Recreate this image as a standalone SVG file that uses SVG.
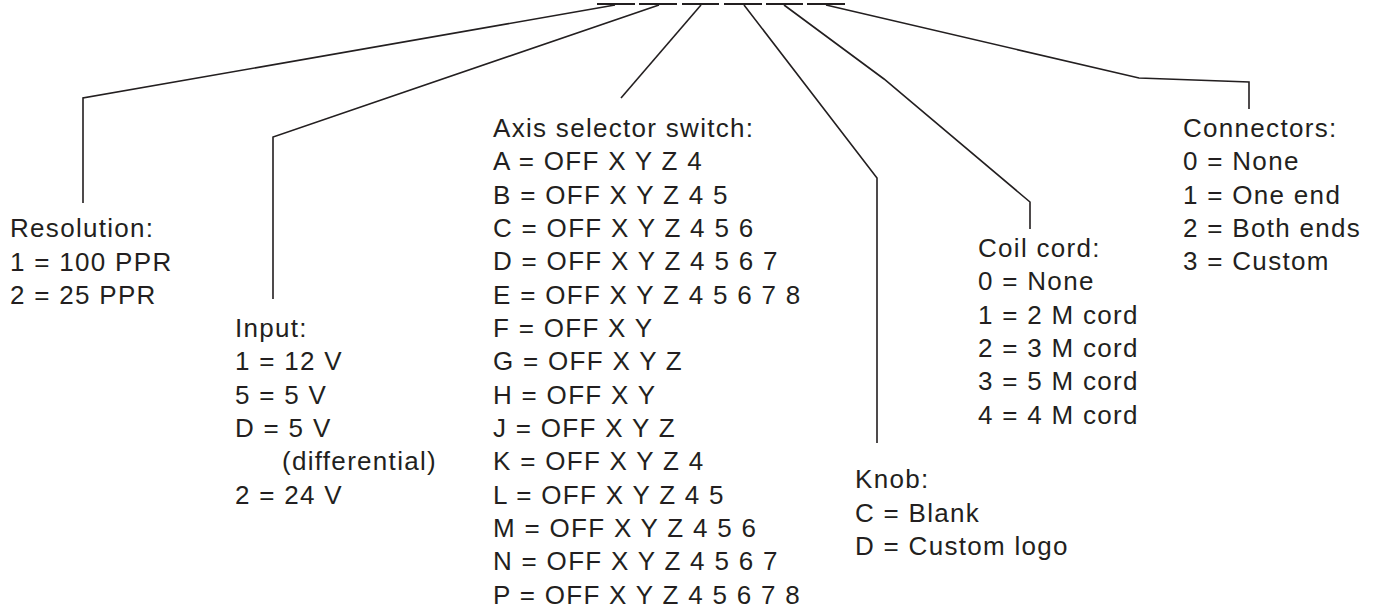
<svg xmlns="http://www.w3.org/2000/svg" width="1373" height="607" viewBox="0 0 1373 607">
<style>
  text { font-family: "Liberation Sans", Arial, sans-serif; font-size: 26px; letter-spacing: 1.3px; fill: #231f20; }
  .ln { fill: none; stroke: #231f20; stroke-width: 1.6; stroke-linejoin: miter; }
  .dash { stroke: #231f20; stroke-width: 2.2; }
</style>
<rect width="1373" height="607" fill="#ffffff"/>
<g id="code-slots">
  <line class="dash" x1="597" y1="4" x2="635" y2="4"/>
  <line class="dash" x1="639" y1="4" x2="677" y2="4"/>
  <line class="dash" x1="682" y1="4" x2="719" y2="4"/>
  <line class="dash" x1="724" y1="4" x2="762" y2="4"/>
  <line class="dash" x1="766" y1="4" x2="803" y2="4"/>
  <line class="dash" x1="807" y1="4" x2="845" y2="4"/>
</g>
<g id="connectors">
  <polyline class="ln" points="615,5 83,98 83,203"/>
  <polyline class="ln" points="659,5 273,137 273,299"/>
  <polyline class="ln" points="701,5 621,98"/>
  <polyline class="ln" points="744,5 877,178 877,443"/>
  <polyline class="ln" points="784,5 884,79 1030,202 1030,229"/>
  <polyline class="ln" points="826,5 1139,78 1249,82 1249,109"/>
</g>
<g id="resolution">
  <text x="10" y="237">Resolution:</text>
  <text x="10" y="270.5">1 = 100 PPR</text>
  <text x="10" y="304">2 = 25 PPR</text>
</g>
<g id="input">
  <text x="235" y="337">Input:</text>
  <text x="235" y="370.3">1 = 12 V</text>
  <text x="235" y="403.6">5 = 5 V</text>
  <text x="235" y="437">D = 5 V</text>
  <text x="282" y="470.3">(differential)</text>
  <text x="235" y="503.6">2 = 24 V</text>
</g>
<g id="axis-selector">
  <text x="493" y="137">Axis selector switch:</text>
  <text x="493" y="170.3">A = OFF X Y Z 4</text>
  <text x="493" y="203.7">B = OFF X Y Z 4 5</text>
  <text x="493" y="237">C = OFF X Y Z 4 5 6</text>
  <text x="493" y="270.3">D = OFF X Y Z 4 5 6 7</text>
  <text x="493" y="303.7">E = OFF X Y Z 4 5 6 7 8</text>
  <text x="493" y="337">F = OFF X Y</text>
  <text x="493" y="370.3">G = OFF X Y Z</text>
  <text x="493" y="403.7">H = OFF X Y</text>
  <text x="493" y="437">J = OFF X Y Z</text>
  <text x="493" y="470.3">K = OFF X Y Z 4</text>
  <text x="493" y="503.7">L = OFF X Y Z 4 5</text>
  <text x="493" y="537">M = OFF X Y Z 4 5 6</text>
  <text x="493" y="570.3">N = OFF X Y Z 4 5 6 7</text>
  <text x="493" y="603.7">P = OFF X Y Z 4 5 6 7 8</text>
</g>
<g id="knob">
  <text x="855" y="488">Knob:</text>
  <text x="855" y="521.5">C = Blank</text>
  <text x="855" y="555">D = Custom logo</text>
</g>
<g id="coil-cord">
  <text x="978" y="257">Coil cord:</text>
  <text x="978" y="290.3">0 = None</text>
  <text x="978" y="323.7">1 = 2 M cord</text>
  <text x="978" y="357">2 = 3 M cord</text>
  <text x="978" y="390.3">3 = 5 M cord</text>
  <text x="978" y="423.7">4 = 4 M cord</text>
</g>
<g id="connectors-option">
  <text x="1183" y="137">Connectors:</text>
  <text x="1183" y="170.3">0 = None</text>
  <text x="1183" y="203.7">1 = One end</text>
  <text x="1183" y="237">2 = Both ends</text>
  <text x="1183" y="270.3">3 = Custom</text>
</g>
</svg>
